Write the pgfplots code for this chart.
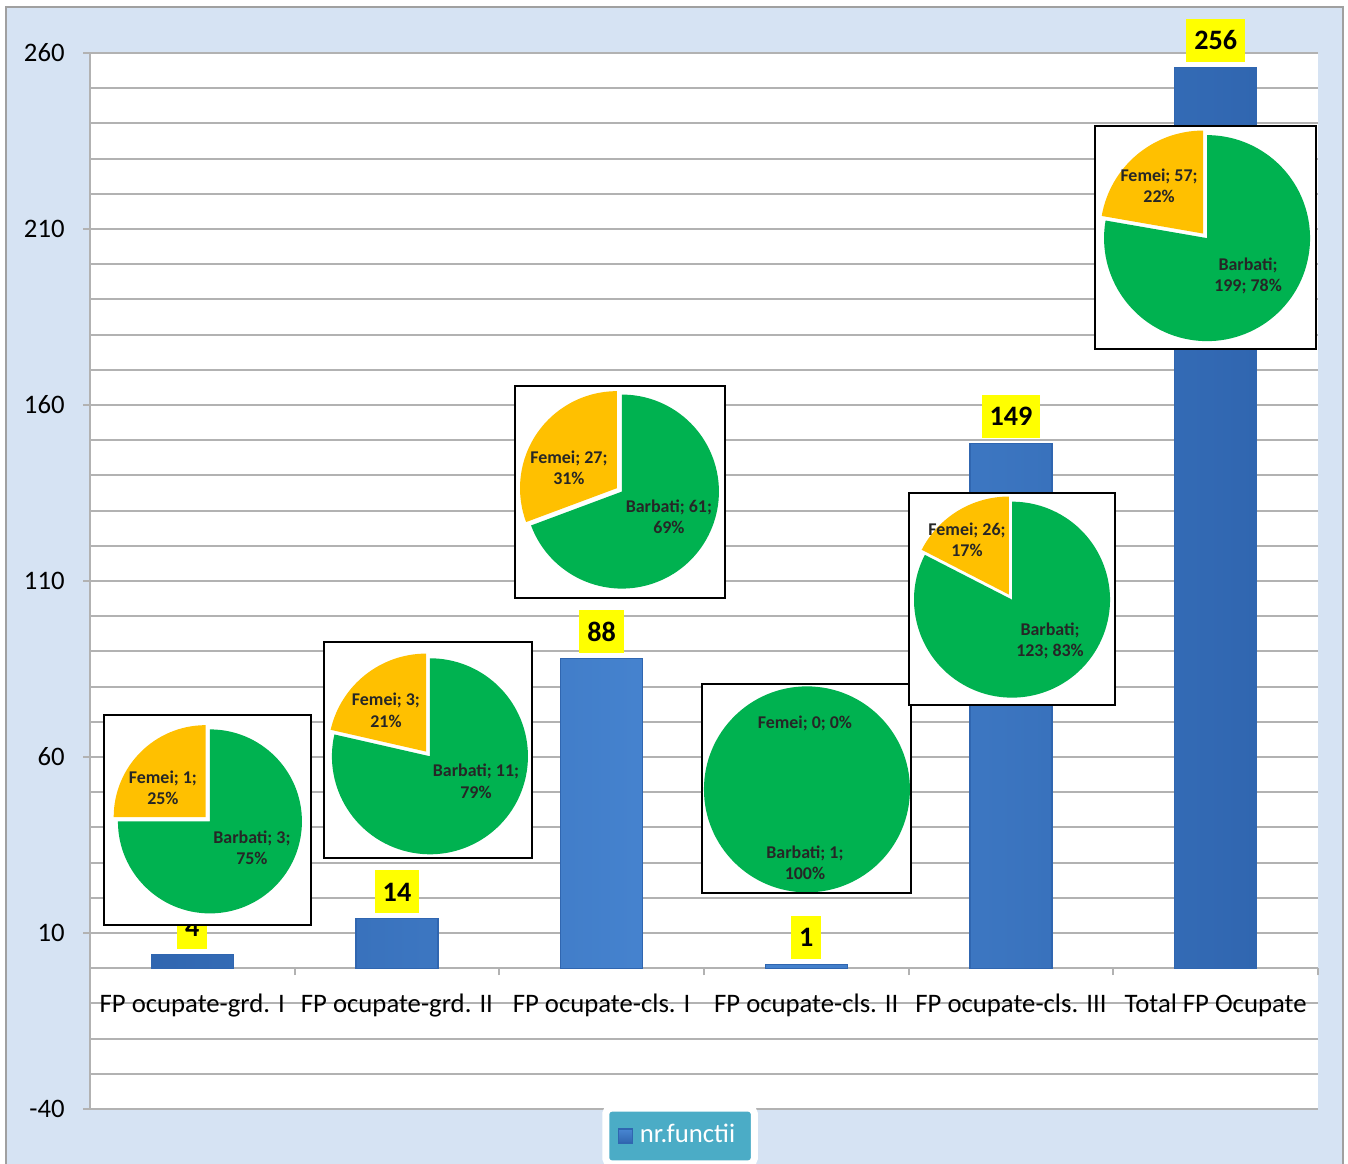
\documentclass[border=0pt]{standalone}
\usepackage{fontspec}
\setmainfont{Carlito}
\usepackage{pgfplots}
\usepackage{pgfplotstable}
\pgfplotsset{compat=1.18}
\usetikzlibrary{calc}

\definecolor{bgblue}{RGB}{214,227,243}
\definecolor{framegray}{RGB}{160,160,160}
\definecolor{gridgray}{RGB}{178,178,178}
\definecolor{barmid}{RGB}{72,134,210}
\definecolor{bardark}{RGB}{48,102,176}
\definecolor{legteal}{RGB}{75,172,198}
\definecolor{pgreen}{RGB}{0,178,80}
\definecolor{pyellow}{RGB}{255,192,0}
\definecolor{lblyellow}{RGB}{255,255,0}

\pgfplotstableread{
x val fem barb
0 4 1 3
1 14 3 11
2 88 27 61
3 1 0 1
4 149 26 123
5 256 57 199
}\datatable

% #1 row, #2 centre coordinate, #3 radius (0.1mm), #4 left, #5 bottom, #6 right, #7 top of box (0.1mm)
\newcommand{\piechart}[7]{%
  \pgfplotstablegetelem{#1}{fem}\of\datatable \edef\pF{\pgfplotsretval}%
  \pgfplotstablegetelem{#1}{barb}\of\datatable \edef\pB{\pgfplotsretval}%
  \pgfmathsetmacro\pA{\pF/(\pF+\pB)*360}%
  \pgfmathsetmacro\pS{90+\pA}%
  \pgfmathsetmacro\pM{90+\pA/2}%
  \begin{scope}[shift={(#2)}, x=0.1mm, y=0.1mm]
    \fill[white] (-#4,-#5) rectangle (#6,#7);
    \ifdim\pF pt>0pt
      \fill[pgreen] (0,0) -- (\pS:#3) arc[start angle=\pS, end angle=450, radius=#3] -- cycle;
      \fill[pyellow] (\pM:6) -- ++(90:#3) arc[start angle=90, end angle=\pS, radius=#3] -- cycle;
    \else
      \fill[pgreen] (0,0) circle[radius=#3];
    \fi
    \draw[black, line width=0.55pt] (-#4,-#5) rectangle (#6,#7);
  \end{scope}}
\newcommand{\pielbl}[4]{%
  \node[font=\fontsize{5.1}{6}\selectfont\bfseries, align=center, text=black!85, inner sep=0pt]
    at ($(#1)+(#2*0.1mm,#3*0.1mm)$) {#4};}

\begin{document}
\begin{tikzpicture}
\useasboundingbox (0,0) rectangle (134.8mm,116.4mm);
\fill[white] (0,0) rectangle (134.8mm,116.4mm);
\fill[bgblue] (0.6mm,-1mm) rectangle (134.3mm,115.7mm);
\draw[framegray, line width=0.6pt] (0.6mm,-1mm) -- (0.6mm,115.7mm) -- (134.3mm,115.7mm) -- (134.3mm,-1mm);
\begin{axis}[
  at={(9mm,5.5mm)}, anchor=south west,
  scale only axis, width=122.8mm, height=105.6mm,
  xmin=-0.5, xmax=5.5, ymin=-40, ymax=260,
  axis x line=middle, axis y line=left,
  axis line style={gridgray, line width=0.7pt, -},
  every inner x axis line/.append style={-},
  every outer y axis line/.append style={-},
  hide obscured x ticks=false, hide obscured y ticks=false,
  axis background/.style={fill=white},
  clip=false,
  /pgf/number format/assume math mode=true,
  ytick={-40,10,...,260},
  minor ytick={-30,-20,...,250},
  ymajorgrids, yminorgrids,
  major grid style={gridgray, line width=0.6pt},
  minor grid style={gridgray, line width=0.6pt},
  ytick style={gridgray, line width=0.6pt},
  minor y tick style={draw=none},
  tick align=outside,
  major tick length=0.7mm,
  xtick={0,...,5},
  xticklabels={FP ocupate-grd. I, FP ocupate-grd. II, FP ocupate-cls. I, FP ocupate-cls. II, FP ocupate-cls. III, Total FP Ocupate},
  xtick style={draw=none},
  extra x ticks={-0.5,0.5,...,5.5},
  extra x tick labels={},
  extra x tick style={xtick style={draw=gridgray, line width=0.6pt}, tick align=outside, major tick length=0.7mm},
  tick label style={font=\fontsize{7.6}{9}\selectfont, text=black},
  xticklabel style={yshift=-0.6mm},
  yticklabel style={xshift=-0.6mm},
  legend style={at={(0.4805,-0.0256)}, anchor=center, fill=legteal, draw=white, line width=2pt,
    rounded corners=1.5pt, font=\fontsize{7.6}{9}\selectfont, text=white, inner xsep=1.2mm, inner ysep=0.9mm},
]
\addplot[ybar, bar width=8.2mm, draw=bardark, line width=0.3pt,
  left color=bardark, right color=bardark, middle color=barmid,
  legend image code/.code={\shade[sharp corners, top color=barmid, bottom color=bardark] (0mm,-0.7mm) rectangle (1.4mm,0.7mm);},
  nodes near coords={\pgfmathprintnumber{\pgfplotspointmeta}},
  every node near coord/.append style={fill=lblyellow, font=\fontsize{8}{9}\selectfont\bfseries, text=black,
    anchor=south, yshift=0.5mm, inner xsep=0.8mm, inner ysep=0pt, minimum height=4.3mm}
  ] table[x=x, y=val] \datatable;
\addlegendentry{nr.functii}
\coordinate (p1) at (axis cs:0.086,41.7);
\coordinate (p2) at (axis cs:1.161,60.2);
\coordinate (p3) at (axis cs:2.099,135.4);
\coordinate (p4) at (axis cs:3.003,50.8);
\coordinate (p5) at (axis cs:4.005,104.7);
\coordinate (p6) at (axis cs:4.958,207.4);
\end{axis}
\piechart{0}{p1}{92}{106}{104}{101}{106}
\piechart{1}{p2}{98}{106}{102}{102}{114}
\piechart{2}{p3}{97}{107}{106}{103}{106}
\piechart{3}{p4}{103}{105}{104}{104}{105}
\piechart{4}{p5}{98}{103}{105}{103}{107}
\piechart{5}{p6}{103}{112}{111}{109}{112}
\pielbl{p1}{-47}{34}{Femei; 1;\\25\%}
\pielbl{p1}{42}{-26}{Barbati; 3;\\75\%}
\pielbl{p2}{-44}{46}{Femei; 3;\\21\%}
\pielbl{p2}{46}{-25}{Barbati; 11;\\79\%}
\pielbl{p3}{-53}{24}{Femei; 27;\\31\%}
\pielbl{p3}{47}{-25}{Barbati; 61;\\69\%}
\pielbl{p4}{-2}{66}{Femei; 0; 0\%}
\pielbl{p4}{-2}{-73}{Barbati; 1;\\100\%}
\pielbl{p5}{-45}{60}{Femei; 26;\\17\%}
\pielbl{p5}{38}{-41}{Barbati;\\123; 83\%}
\pielbl{p6}{-48}{52}{Femei; 57;\\22\%}
\pielbl{p6}{41}{-38}{Barbati;\\199; 78\%}
\end{tikzpicture}
\end{document}
